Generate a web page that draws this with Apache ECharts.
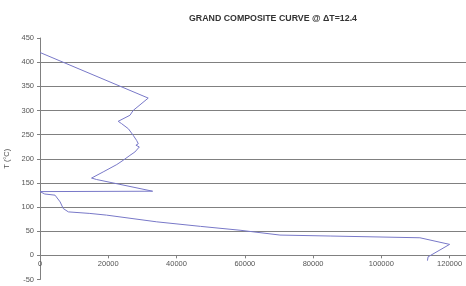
<!DOCTYPE html>
<html>
<head>
<meta charset="utf-8">
<script src="https://cdn.jsdelivr.net/npm/echarts@6/dist/echarts.min.js"></script>
<style>
  html, body { margin: 0; padding: 0; background: #fff; }
  #chart { width: 466px; height: 286px; }
</style>
</head>
<body>
<div id="chart"></div>
<script>
// heat flow (x) and shifted temperature (y)
const heatFlow = [0, 31700, 27300, 26350, 22900, 23900, 25900, 27300, 28300, 28800, 28100, 29100, 27800, 26350, 24400, 22500, 18500, 15100, 16600, 33000, 0, 1400, 4400, 5900, 6800, 8300, 14600, 19500, 34200, 47000, 58600, 70300, 85000, 111300, 120000, 113700, 113500];
const temps = [420, 325.6, 300, 290, 277.5, 272.7, 262, 248.5, 238, 231, 228, 224.4, 214, 207, 197, 188, 172.7, 160, 157, 132.8, 132, 127, 124.6, 110.7, 97, 90, 86.8, 83.3, 69.4, 60, 52, 42, 40, 36.4, 22.7, -3, -11];

const chart = echarts.init(document.getElementById('chart'));

const labelStyle = { fontFamily: 'Liberation Sans, Arial, sans-serif', fontSize: 7.5, color: '#555' };

// plot height 241.5px over 500 degC -> the zero line sits one 50-step above the bottom
const zeroOffset = -241.5 * 50 / 500;

chart.setOption({
  animation: false,
  title: {
    text: 'GRAND COMPOSITE CURVE @ \u0394T=12.4',
    left: 268,
    top: 9,
    textAlign: 'center',
    textStyle: { fontFamily: 'Liberation Sans, Arial, sans-serif', fontSize: 8.8, fontWeight: 'bold', color: '#333' }
  },
  grid: { left: 40, top: 38, right: 0, bottom: 6.5, containLabel: false, outerBoundsMode: 'none' },
  xAxis: {
    type: 'value',
    position: 'bottom',
    offset: zeroOffset,
    min: 0,
    max: 124800,
    interval: 20000,
    axisLine: { onZero: false, lineStyle: { color: '#808080' } },
    axisTick: { show: true, length: 3, lineStyle: { color: '#808080' } },
    axisLabel: Object.assign({ margin: 5, showMaxLabel: false, formatter: v => String(v) }, labelStyle),
    splitLine: { show: false }
  },
  yAxis: {
    type: 'value',
    min: -50,
    max: 450,
    interval: 50,
    name: 'T (\u00b0C)',
    nameLocation: 'middle',
    nameGap: 21,
    nameRotate: 90,
    nameTextStyle: labelStyle,
    axisLine: { show: true, onZero: false, lineStyle: { color: '#808080' } },
    axisTick: { show: true, length: 3, lineStyle: { color: '#808080' } },
    axisLabel: Object.assign({ margin: 6 }, labelStyle),
    splitLine: { show: true, showMinLine: false, showMaxLine: false, lineStyle: { color: '#808080', width: 1 } }
  },
  series: [{
    type: 'line',
    data: heatFlow.map((h, i) => [h, temps[i]]),
    showSymbol: false,
    symbol: 'none',
    lineStyle: { color: '#7878c8', width: 1 }
  }]
});
</script>
</body>
</html>
